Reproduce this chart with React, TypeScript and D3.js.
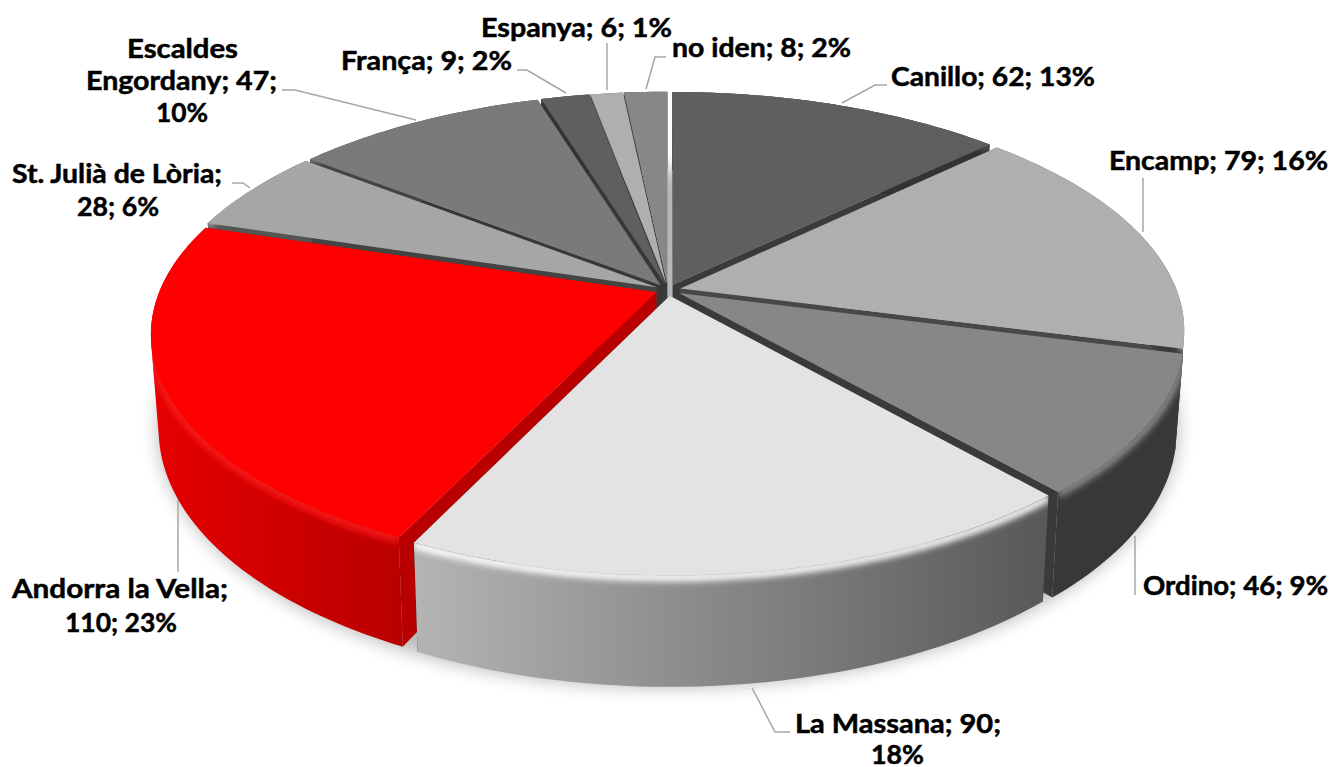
import React from "react";
import * as d3 from "d3";

const categories = ["Canillo","Encamp","Ordino","La Massana","Andorra la Vella","St. Julià de Lòria","Escaldes Engordany","França","Espanya","no iden"];
const values = [62,79,46,90,110,28,47,9,6,8];
const topColors = ["#5f5f5f","#afafaf","#878787","#e3e3e3","#ff0000","#a6a6a6","#7a7a7a","#5f5f5f","#afafaf","#878787"];
const wallLeft = ["#333","#555","#383838","#b4b4b4","#e60000","#555","#444","#333","#555","#444"];
const wallRight = ["#333","#383838","#383838","#585858","#b80000","#555","#444","#333","#555","#444"];
const sideColors = ["#3a3a3a","#484848","#3a3a3a","#3a3a3a","#b80000","#444444","#383838","#383838","#3a3a3a","#3a3a3a"];
const rimColors = ["#5f5f5f","#afafaf","#8c8c8c","#ffffff","#f81818","#a6a6a6","#7a7a7a","#5f5f5f","#afafaf","#878787"];

const labelFont = "Lato, 'Open Sans', sans-serif";
const labelLines: [string, number, number, number][] = [
  ["Espanya; 6; 1%", 481, 672, 37],
  ["no iden; 8; 2%", 672, 851, 57],
  ["Canillo; 62; 13%", 891, 1095, 86],
  ["Encamp; 79; 16%", 1109, 1328, 170],
  ["Ordino; 46; 9%", 1143, 1328, 595],
  ["La Massana; 90;", 795, 1001, 733],
  ["18%", 871, 924, 764],
  ["Andorra la Vella;", 12, 228, 598],
  ["110; 23%", 65, 177, 632],
  ["St. Julià de Lòria;", 12, 222, 183],
  ["28; 6%", 77, 159, 216],
  ["Escaldes", 127, 238, 58],
  ["Engordany; 47;", 86, 277, 90],
  ["10%", 156, 208, 122],
  ["França; 9; 2%", 341, 512, 70],
];
const leaders: [number, number][][] = [
  [[842,103],[875,85],[887,85]],
  [[646,89],[655,57],[666,57]],
  [[607,90],[607,43]],
  [[566,93],[527,70],[517,70]],
  [[416,120],[295,90],[282,90]],
  [[250,188],[243,183],[232,183]],
  [[1143,232],[1143,178]],
  [[1135,536],[1135,595]],
  [[752,688],[775,732],[790,732]],
  [[178,500],[178,572]],
];

// perspective disc geometry
const cx = 668, cy = 290, R = 509, Rk = 234, persp = 0.18, depth = 91.5, explode = 0.025;

type P = [number, number];

function project(u: number, v: number, bottom = false): P {
  const s = 1 / (1 - persp * v);
  const xs = bottom ? 0.985 : 1;
  return [cx + R * u * s * xs, cy + Rk * v * s + (bottom ? depth * s : 0)];
}

const arcs = d3.pie<number>().sort(null)(values);
const line = d3.line<P>();

function rim(a0: number, a1: number, mid: number, bottom = false) {
  const n = Math.max(4, Math.ceil((a1 - a0) / 0.02));
  const r = 1 - explode;
  return d3.range(n + 1).map((i) => {
    const t = a0 + ((a1 - a0) * i) / n;
    return project(r * Math.sin(t) + explode * Math.sin(mid), -r * Math.cos(t) - explode * Math.cos(mid), bottom);
  });
}

// outer wall as one path of equally-wound quads, so the silhouette stays convex
function wallPath(top: P[], bot: P[]) {
  let d = "";
  for (let i = 0; i < top.length - 1; i++) {
    const q: P[] = [top[i], top[i + 1], bot[i + 1], bot[i]];
    if (d3.polygonArea(q) < 0) q.reverse();
    d += line(q) + "Z";
  }
  return d;
}

export default function App() {
  const slices = arcs.map((a, i) => {
    const mid = (a.startAngle + a.endAngle) / 2;
    const apexU = explode * Math.sin(mid), apexV = -explode * Math.cos(mid);
    const apex = project(apexU, apexV), apexB = project(apexU, apexV, true);
    const top = rim(a.startAngle, a.endAngle, mid);
    const bot = rim(a.startAngle, a.endAngle, mid, true);
    return { i, mid, apex, apexB, top, bot, wall: wallPath(top, bot), order: -Math.cos(mid) };
  }).sort((p, q) => p.order - q.order);

  const disc = d3.range(0, 2 * Math.PI + 0.02, 0.02).map((t) => project(Math.sin(t), -Math.cos(t), true));

  return (
    <svg width={1333} height={767} style={{ position: "absolute", left: 0, top: 0, display: "block", background: "#fff" }}>
      <defs>
        <filter id="shadow" x="-10%" y="-10%" width="120%" height="120%"><feGaussianBlur stdDeviation="9" /></filter>
        <filter id="soft" x="-10%" y="-30%" width="120%" height="160%"><feGaussianBlur stdDeviation="3" /></filter>
        {categories.map((c, i) => (
          <linearGradient key={c} id={`wall${i}`} x1="0" x2="1" y1="0" y2="0">
            <stop offset="0" stopColor={wallLeft[i]} />
            <stop offset="1" stopColor={wallRight[i]} />
          </linearGradient>
        ))}
        {slices.map((s) => (
          <clipPath key={s.i} id={`clip${s.i}`}>
            <path d={s.wall} />
          </clipPath>
        ))}
      </defs>
      <path d={line(disc) + "Z"} fill="#000" opacity={0.28} filter="url(#shadow)" />
      {slices.map((s) => {
        const n = s.top.length - 1;
        return (
          <g key={s.i}>
            <path d={line([s.apex, s.top[0], s.bot[0], s.apexB]) + "Z"} fill={sideColors[s.i]} />
            <path d={line([s.apex, s.top[n], s.bot[n], s.apexB]) + "Z"} fill={sideColors[s.i]} />
            <path d={s.wall} fill={`url(#wall${s.i})`} />
            <g clipPath={`url(#clip${s.i})`}>
              <path d={line(s.top.map(([x, y]) => [x, y + 2] as P)) ?? ""} fill="none" stroke={rimColors[s.i]} strokeWidth={8} filter="url(#soft)" />
            </g>
            <path d={line([s.apex, ...s.top]) + "Z"} fill={topColors[s.i]} />
          </g>
        );
      })}
      {leaders.map((l, i) => (
        <path key={i} d={line(l) ?? ""} fill="none" stroke="#a6a6a6" strokeWidth={1.5} />
      ))}
      {labelLines.map(([t, x0, x1, y]) => (
        <text key={t} x={x0} y={y} fontFamily={labelFont} fontWeight={700} fontSize={26} fill="#000"
          stroke="#000" strokeWidth={0.5} textLength={x1 - x0} lengthAdjust="spacingAndGlyphs">{t}</text>
      ))}
    </svg>
  );
}
